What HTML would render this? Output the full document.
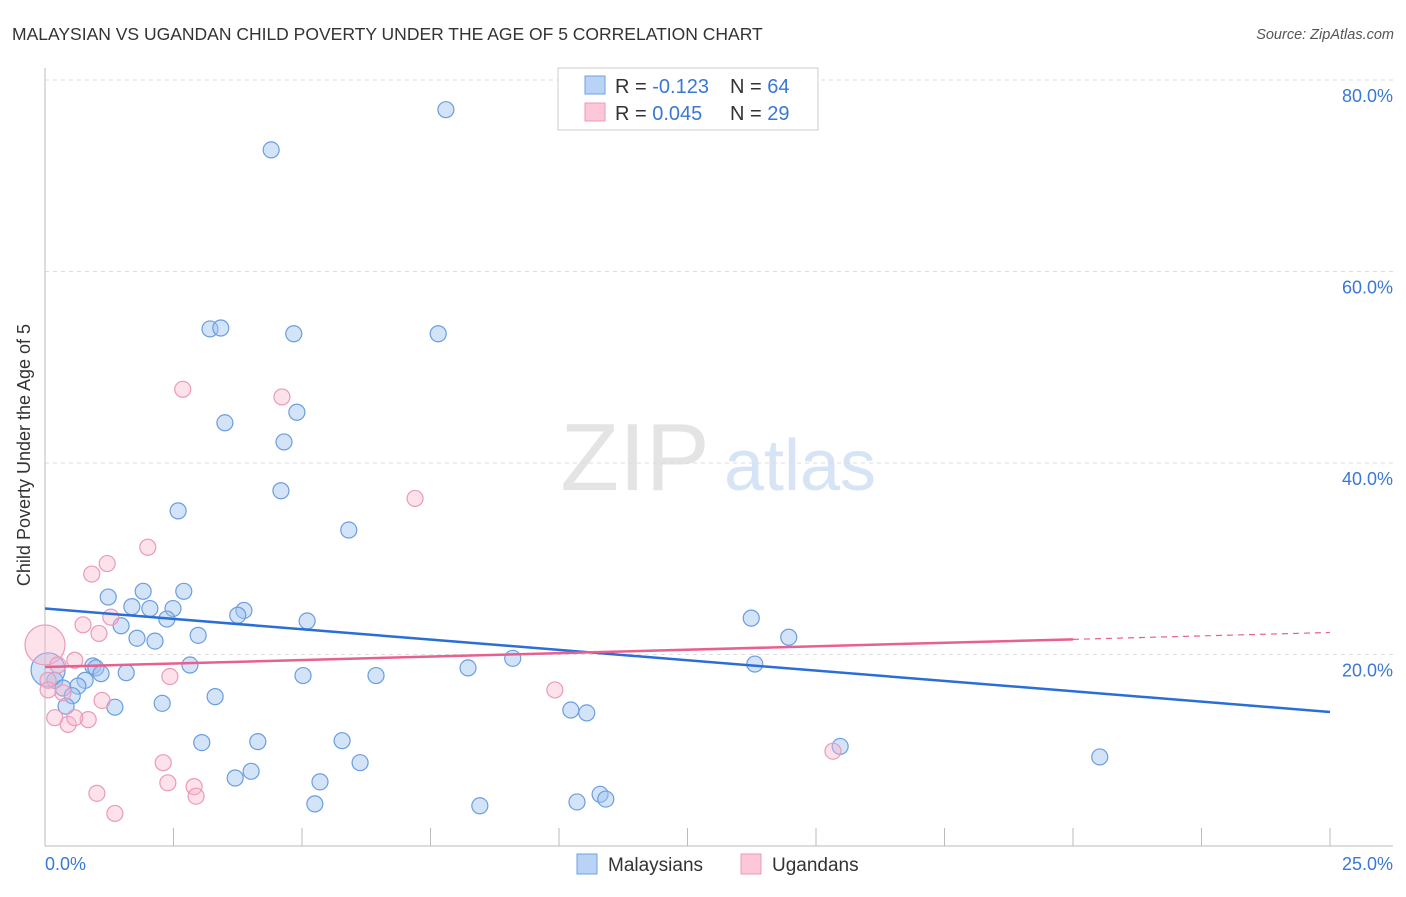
<!DOCTYPE html>
<html><head><meta charset="utf-8"><style>
body{margin:0;background:#fff;font-family:"Liberation Sans",sans-serif}
svg text{font-family:"Liberation Sans",sans-serif}
</style></head><body>
<svg id="c" width="1406" height="892">
<text x="12" y="40" font-size="17.5" fill="#333">MALAYSIAN VS UGANDAN CHILD POVERTY UNDER THE AGE OF 5 CORRELATION CHART</text>
<text x="1394" y="39" font-size="14.5" fill="#555" text-anchor="end" font-style="italic">Source: ZipAtlas.com</text>
<text x="30" y="455" font-size="18" fill="#333" text-anchor="middle" transform="rotate(-90 30 455)">Child Poverty Under the Age of 5</text>
<g><text x="635" y="490" font-size="96" fill="#e4e4e4" text-anchor="middle" font-family="Liberation Serif,serif">ZIP</text><text x="800" y="490" font-size="72" fill="#d6e4f5" text-anchor="middle">atlas</text></g>
<g id="grid"></g><g id="axes"></g><g id="pts"></g><g id="lines"></g>
<g>
<rect x="558" y="68" width="260" height="62" fill="#fff" stroke="#ccc"/>
<rect x="585" y="76" width="20" height="18" fill="#b8d3f5" stroke="#6fa0e0"/>
<rect x="585" y="103" width="20" height="18" fill="#fcc8d8" stroke="#ec98b4"/>
<text x="615" y="93" font-size="20" fill="#333">R = <tspan fill="#3a78d4">-0.123</tspan><tspan x="730">N = </tspan><tspan fill="#3a78d4">64</tspan></text>
<text x="615" y="120" font-size="20" fill="#333">R = <tspan fill="#3a78d4">0.045</tspan><tspan x="730">N = </tspan><tspan fill="#3a78d4">29</tspan></text>
</g>
<g>
<rect x="577" y="854" width="20" height="20" fill="#b8d3f5" stroke="#6fa0e0"/><text x="608" y="871" font-size="19" fill="#333">Malaysians</text>
<rect x="741" y="854" width="20" height="20" fill="#fcc8d8" stroke="#ec98b4"/><text x="772" y="871" font-size="19" fill="#333">Ugandans</text>
</g>
</svg>
<script>
const yTicks=[20,40,60,80];
const xTickLabels=["0.0%","25.0%"];
const blueX=[7.80,4.40,3.21,3.42,4.84,7.65,4.90,3.50,4.65,4.59,2.59,5.91,1.91,2.70,1.23,1.69,2.04,2.49,3.87,3.75,2.37,5.10,1.48,2.98,1.79,2.14,13.74,14.47,13.81,9.10,8.23,2.82,0.93,0.99,1.58,1.09,5.02,6.44,0.78,0.19,0.06,0.35,0.64,0.53,3.31,2.28,1.36,0.41,10.23,10.54,3.05,4.14,5.78,15.47,20.52,4.01,3.70,5.35,6.13,5.25,8.46,10.35,10.80,10.91];
const blueY=[76.9,72.7,54.0,54.1,53.5,53.5,45.3,44.2,42.2,37.1,35.0,33.0,26.6,26.6,26.0,25.0,24.8,24.8,24.6,24.1,23.7,23.5,23.0,22.0,21.7,21.4,23.8,21.8,19.0,19.6,18.6,18.9,18.8,18.6,18.1,18.0,17.8,17.8,17.3,17.3,18.4,16.5,16.7,15.7,15.6,14.9,14.5,14.6,14.2,13.9,10.8,10.9,11.0,10.4,9.3,7.8,7.1,6.7,8.7,4.4,4.2,4.6,5.4,4.9];
const pinkX=[0,2.68,4.61,7.20,2.00,1.21,0.91,1.28,0.74,1.05,0.25,0.58,0.06,0.35,1.11,0.19,0.84,0.45,0.58,9.92,2.43,2.30,2.39,2.90,2.94,1.01,1.36,15.33,0.06];
const pinkY=[21.0,47.7,46.9,36.3,31.2,29.5,28.4,23.9,23.1,22.2,18.9,19.4,17.3,16.0,15.2,13.4,13.2,12.7,13.4,16.3,17.7,8.7,6.6,6.2,5.2,5.5,3.4,9.9,16.3];
const blueTrend=[24.8,14.0];
const pinkTrend=[18.7,22.3];
const pinkSolidEnd=20;
const X=v=>45+v/25*1285, Y=v=>846-v/20*191.5;
const NS="http://www.w3.org/2000/svg";
function mk(p,t,a){const e=document.createElementNS(NS,t);for(const k in a)e.setAttribute(k,a[k]);document.getElementById(p).appendChild(e);return e;}
yTicks.forEach(v=>{
const l=mk('grid','line',{x1:45,x2:1393,y1:Y(v),y2:Y(v),stroke:'#ddd','stroke-dasharray':'4,4'});


const t=mk('grid','text',{x:1393,y:Y(v)+22,'font-size':18,fill:'#3a78d4','text-anchor':'end'});t.textContent=v.toFixed(1)+'%';


});
mk('axes','line',{x1:45,x2:45,y1:68,y2:846,stroke:'#bbb'});
mk('axes','line',{x1:45,x2:1393,y1:846,y2:846,stroke:'#bbb'});
for(let i=1;i<=10;i++){const tk=mk('axes','line',{x1:X(i*2.5),x2:X(i*2.5),y1:828,y2:846,stroke:'#bbb'});

}
const t0=mk('axes','text',{x:45,y:870,'font-size':18,fill:'#3a78d4'});t0.textContent=xTickLabels[0];


const t1=mk('axes','text',{x:1393,y:870,'font-size':18,fill:'#3a78d4','text-anchor':'end'});t1.textContent=xTickLabels[1];


blueX.forEach((v,i)=>{const c=mk('pts','circle',{cx:X(v),cy:Y(blueY[i]),r:i==40?17:8,fill:'rgba(160,195,240,0.45)',stroke:'#6a9de0','stroke-width':1.2});

});
pinkX.forEach((v,i)=>{const c=mk('pts','circle',{cx:X(v),cy:Y(pinkY[i]),r:i==0?20:8,fill:'rgba(250,180,205,0.4)',stroke:'#eb9ab6','stroke-width':1.2});

});
const bl=mk('lines','line',{x1:X(0),y1:Y(blueTrend[0]),x2:X(25),y2:Y(blueTrend[1]),stroke:'#2a6fd6','stroke-width':2.5});


const pm=pinkTrend[0]+(pinkTrend[1]-pinkTrend[0])*pinkSolidEnd/25;
const pl=mk('lines','line',{x1:X(0),y1:Y(pinkTrend[0]),x2:X(pinkSolidEnd),y2:Y(pm),stroke:'#e8608e','stroke-width':2.5});


const pd=mk('lines','line',{x1:X(pinkSolidEnd),y1:Y(pm),x2:X(25),y2:Y(pinkTrend[1]),stroke:'#e8608e','stroke-width':1.2,'stroke-dasharray':'6,5'});


</script>
</body></html>
